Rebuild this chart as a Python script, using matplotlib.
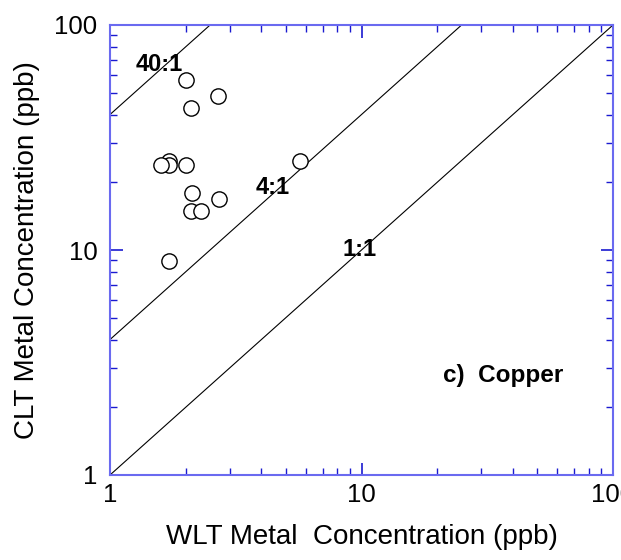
import matplotlib
matplotlib.use("Agg")
import matplotlib.pyplot as plt
from matplotlib.ticker import LogLocator, NullFormatter, FixedFormatter, FixedLocator

plt.rcParams['font.family'] = ['Liberation Sans', 'DejaVu Sans']

# -------------------------------------------------
# Data
# -------------------------------------------------
wlt_ppb = [2.0, 2.7, 2.1, 1.71, 1.71, 1.6, 2.0, 5.7, 2.11, 2.71, 2.1, 2.3, 1.71]
clt_ppb = [57, 48.5, 42.6, 24.9, 23.9, 23.9, 23.9, 24.8, 17.9, 16.8, 14.9, 14.9, 8.93]

ratios = [1, 4, 40]
ratio_labels = ['1:1', '4:1', '40:1']
ratio_label_pos = [(8.4, 10.0), (3.8, 19.0), (1.27, 67.0)]

xlim = (1, 100)
ylim = (1, 100)
major_ticks = [1, 10, 100]
major_labels = ['1', '10', '100']

spine_color = '#6a6af0'
tick_color = '#1a1ad0'

fig = plt.figure(figsize=(6.21, 5.6), dpi=100)
ax = fig.add_axes([110 / 621, 1 - 475 / 560, 503 / 621, 450 / 560])

for r in ratios:
    ax.plot(xlim, [xlim[0] * r, xlim[1] * r], color='black', lw=0.8)

ax.plot(wlt_ppb, clt_ppb, 'o', markersize=11, markerfacecolor='white',
        markeredgecolor='black', markeredgewidth=1.0, zorder=3)

for lab, (tx, ty) in zip(ratio_labels, ratio_label_pos):
    ax.text(tx, ty, lab, fontsize=17, fontweight='bold', va='center', ha='left')

ax.text(21, 2.78, 'c)  Copper', fontsize=17.5, fontweight='bold', va='center', ha='left')

ax.set_xscale('log')
ax.set_yscale('log')
ax.set_xlim(*xlim)
ax.set_ylim(*ylim)

for axis in (ax.xaxis, ax.yaxis):
    axis.set_major_locator(FixedLocator(major_ticks))
    axis.set_major_formatter(FixedFormatter(major_labels))
    axis.set_minor_locator(LogLocator(base=10, subs=range(2, 10)))
    axis.set_minor_formatter(NullFormatter())

ax.tick_params(which='both', direction='in', top=True, right=True, color=tick_color,
               labelsize=18.5)
ax.tick_params(which='major', length=9, width=1.2)
ax.tick_params(which='minor', length=5, width=1.0)
ax.tick_params(axis='x', which='major', pad=6)
ax.tick_params(axis='y', which='major', pad=9)

for s in ax.spines.values():
    s.set_color(spine_color)
    s.set_linewidth(1.5)

ax.set_xlabel('WLT Metal  Concentration (ppb)', fontsize=20, labelpad=12)
ax.set_ylabel('CLT Metal Concentration (ppb)', fontsize=20, labelpad=10)

fig.savefig('out.png', dpi=100)
